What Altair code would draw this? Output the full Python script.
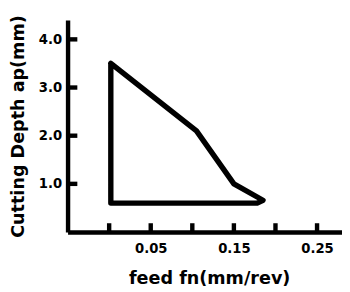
import altair as alt
import pandas as pd

# polygon outline (feed fn, cutting depth ap), drawn in order
feed = [0.002, 0.105, 0.150, 0.185, 0.178, 0.002, 0.002]
depth = [3.50, 2.10, 1.00, 0.66, 0.60, 0.60, 3.50]
order = list(range(len(feed)))

x_ticks = [0.0, 0.05, 0.10, 0.15, 0.20, 0.25]
x_labels = [0.05, 0.15, 0.25]
y_ticks = [1.0, 2.0, 3.0, 4.0]

poly = pd.DataFrame({"feed": feed, "depth": depth, "order": order})
xt = pd.DataFrame({"feed": x_ticks})
yt = pd.DataFrame({"depth": y_ticks})

FONT = "DejaVu Sans"
W, H = 281, 217

xscale = alt.Scale(domain=[-0.05, 0.28], nice=False, zero=False)
yscale = alt.Scale(domain=[0, 4.4], nice=False, zero=False)

xaxis = alt.Axis(
    title="feed fn(mm/rev)", values=x_labels, format=".2f", grid=False,
    tickSize=0, labelPadding=9.5, labelFont=FONT, labelFontSize=13.5,
    labelFontWeight="bold", labelColor="black", titleFont=FONT,
    titleFontSize=18, titleFontWeight="bold", titleColor="black",
    titlePadding=16, domainColor="black", domainWidth=4.5, titleX=145,
)
yaxis = alt.Axis(
    title="Cutting Depth ap(mm)", values=y_ticks, format=".1f", grid=False,
    tickSize=0, labelPadding=6, labelFont=FONT, labelFontSize=13.5,
    labelFontWeight="bold", labelColor="black", titleFont=FONT,
    titleFontSize=18, titleFontWeight="bold", titleColor="black",
    titlePadding=11, domainColor="black", domainWidth=4.5,
)

shape = alt.Chart(poly).mark_line(
    color="black", strokeWidth=5.5, strokeJoin="round", strokeCap="round"
).encode(
    x=alt.X("feed:Q", scale=xscale, axis=xaxis),
    y=alt.Y("depth:Q", scale=yscale, axis=yaxis),
    order="order:Q",
)

xtick_rules = alt.Chart(xt).mark_rule(color="black", strokeWidth=4.5).encode(
    x=alt.X("feed:Q", scale=xscale, axis=xaxis),
    y=alt.value(H),
    y2=alt.value(H - 9),
)

ytick_rules = alt.Chart(yt).mark_rule(color="black", strokeWidth=4.5).encode(
    y=alt.Y("depth:Q", scale=yscale, axis=yaxis),
    x=alt.value(0),
    x2=alt.value(10),
)

chart = alt.layer(shape, xtick_rules, ytick_rules).properties(
    width=W, height=H,
    autosize=alt.AutoSizeParams(type="none"),
    padding={"left": 61, "top": 9, "right": 0, "bottom": 57},
    background="white",
).configure_view(stroke=None)

chart.save("out.html", embed_options={"renderer": "svg", "actions": False})
